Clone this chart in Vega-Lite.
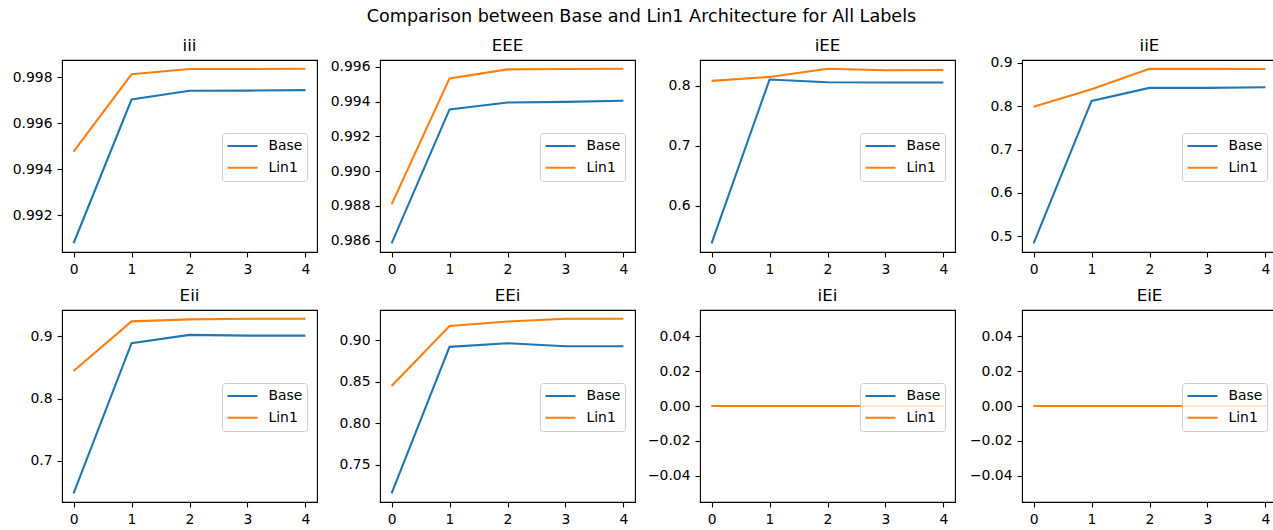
{
  "$schema": "https://vega.github.io/schema/vega-lite/v6.json",
  "padding": {"left": 11, "top": 8, "right": 0, "bottom": 0},
  "background": "white",
  "title": {"text": "Comparison between Base and Lin1 Architecture for All Labels", "anchor": "middle", "fontSize": 17.6, "fontWeight": "normal", "font": "DejaVu Sans", "color": "#000", "offset": 11.3, "dx": -3},
  "data": {"values": [
    {"label": "iii", "model": "Base", "epoch": 0, "value": 0.99078},
    {"label": "iii", "model": "Base", "epoch": 1, "value": 0.99703},
    {"label": "iii", "model": "Base", "epoch": 2, "value": 0.99741},
    {"label": "iii", "model": "Base", "epoch": 3, "value": 0.99742},
    {"label": "iii", "model": "Base", "epoch": 4, "value": 0.99744},
    {"label": "iii", "model": "Lin1", "epoch": 0, "value": 0.99477},
    {"label": "iii", "model": "Lin1", "epoch": 1, "value": 0.99813},
    {"label": "iii", "model": "Lin1", "epoch": 2, "value": 0.99836},
    {"label": "iii", "model": "Lin1", "epoch": 3, "value": 0.99836},
    {"label": "iii", "model": "Lin1", "epoch": 4, "value": 0.99837},
    {"label": "EEE", "model": "Base", "epoch": 0, "value": 0.98585},
    {"label": "EEE", "model": "Base", "epoch": 1, "value": 0.99355},
    {"label": "EEE", "model": "Base", "epoch": 2, "value": 0.99395},
    {"label": "EEE", "model": "Base", "epoch": 3, "value": 0.99398},
    {"label": "EEE", "model": "Base", "epoch": 4, "value": 0.99405},
    {"label": "EEE", "model": "Lin1", "epoch": 0, "value": 0.98809},
    {"label": "EEE", "model": "Lin1", "epoch": 1, "value": 0.99533},
    {"label": "EEE", "model": "Lin1", "epoch": 2, "value": 0.99585},
    {"label": "EEE", "model": "Lin1", "epoch": 3, "value": 0.99587},
    {"label": "EEE", "model": "Lin1", "epoch": 4, "value": 0.99589},
    {"label": "iEE", "model": "Base", "epoch": 0, "value": 0.537},
    {"label": "iEE", "model": "Base", "epoch": 1, "value": 0.810},
    {"label": "iEE", "model": "Base", "epoch": 2, "value": 0.8055},
    {"label": "iEE", "model": "Base", "epoch": 3, "value": 0.805},
    {"label": "iEE", "model": "Base", "epoch": 4, "value": 0.805},
    {"label": "iEE", "model": "Lin1", "epoch": 0, "value": 0.8078},
    {"label": "iEE", "model": "Lin1", "epoch": 1, "value": 0.8144},
    {"label": "iEE", "model": "Lin1", "epoch": 2, "value": 0.828},
    {"label": "iEE", "model": "Lin1", "epoch": 3, "value": 0.8254},
    {"label": "iEE", "model": "Lin1", "epoch": 4, "value": 0.826},
    {"label": "iiE", "model": "Base", "epoch": 0, "value": 0.484},
    {"label": "iiE", "model": "Base", "epoch": 1, "value": 0.812},
    {"label": "iiE", "model": "Base", "epoch": 2, "value": 0.842},
    {"label": "iiE", "model": "Base", "epoch": 3, "value": 0.842},
    {"label": "iiE", "model": "Base", "epoch": 4, "value": 0.8436},
    {"label": "iiE", "model": "Lin1", "epoch": 0, "value": 0.7985},
    {"label": "iiE", "model": "Lin1", "epoch": 1, "value": 0.839},
    {"label": "iiE", "model": "Lin1", "epoch": 2, "value": 0.8862},
    {"label": "iiE", "model": "Lin1", "epoch": 3, "value": 0.8858},
    {"label": "iiE", "model": "Lin1", "epoch": 4, "value": 0.8855},
    {"label": "Eii", "model": "Base", "epoch": 0, "value": 0.648},
    {"label": "Eii", "model": "Base", "epoch": 1, "value": 0.8889},
    {"label": "Eii", "model": "Base", "epoch": 2, "value": 0.9022},
    {"label": "Eii", "model": "Base", "epoch": 3, "value": 0.901},
    {"label": "Eii", "model": "Base", "epoch": 4, "value": 0.901},
    {"label": "Eii", "model": "Lin1", "epoch": 0, "value": 0.8443},
    {"label": "Eii", "model": "Lin1", "epoch": 1, "value": 0.9239},
    {"label": "Eii", "model": "Lin1", "epoch": 2, "value": 0.9271},
    {"label": "Eii", "model": "Lin1", "epoch": 3, "value": 0.9282},
    {"label": "Eii", "model": "Lin1", "epoch": 4, "value": 0.9282},
    {"label": "EEi", "model": "Base", "epoch": 0, "value": 0.7157},
    {"label": "EEi", "model": "Base", "epoch": 1, "value": 0.8921},
    {"label": "EEi", "model": "Base", "epoch": 2, "value": 0.8964},
    {"label": "EEi", "model": "Base", "epoch": 3, "value": 0.8928},
    {"label": "EEi", "model": "Base", "epoch": 4, "value": 0.8928},
    {"label": "EEi", "model": "Lin1", "epoch": 0, "value": 0.8449},
    {"label": "EEi", "model": "Lin1", "epoch": 1, "value": 0.9172},
    {"label": "EEi", "model": "Lin1", "epoch": 2, "value": 0.9227},
    {"label": "EEi", "model": "Lin1", "epoch": 3, "value": 0.926},
    {"label": "EEi", "model": "Lin1", "epoch": 4, "value": 0.926},
    {"label": "iEi", "model": "Base", "epoch": 0, "value": 0},
    {"label": "iEi", "model": "Base", "epoch": 1, "value": 0},
    {"label": "iEi", "model": "Base", "epoch": 2, "value": 0},
    {"label": "iEi", "model": "Base", "epoch": 3, "value": 0},
    {"label": "iEi", "model": "Base", "epoch": 4, "value": 0},
    {"label": "iEi", "model": "Lin1", "epoch": 0, "value": 0},
    {"label": "iEi", "model": "Lin1", "epoch": 1, "value": 0},
    {"label": "iEi", "model": "Lin1", "epoch": 2, "value": 0},
    {"label": "iEi", "model": "Lin1", "epoch": 3, "value": 0},
    {"label": "iEi", "model": "Lin1", "epoch": 4, "value": 0},
    {"label": "EiE", "model": "Base", "epoch": 0, "value": 0},
    {"label": "EiE", "model": "Base", "epoch": 1, "value": 0},
    {"label": "EiE", "model": "Base", "epoch": 2, "value": 0},
    {"label": "EiE", "model": "Base", "epoch": 3, "value": 0},
    {"label": "EiE", "model": "Base", "epoch": 4, "value": 0},
    {"label": "EiE", "model": "Lin1", "epoch": 0, "value": 0},
    {"label": "EiE", "model": "Lin1", "epoch": 1, "value": 0},
    {"label": "EiE", "model": "Lin1", "epoch": 2, "value": 0},
    {"label": "EiE", "model": "Lin1", "epoch": 3, "value": 0},
    {"label": "EiE", "model": "Lin1", "epoch": 4, "value": 0}
  ]},
  "columns": 4,
  "align": "each",
  "spacing": {"row": 10, "column": 10},
  "resolve": {"scale": {"color": "independent", "x": "independent", "y": "independent"}, "legend": {"color": "independent"}},
  "concat": [
    {
      "title": "iii", "width": 255, "height": 192,
      "transform": [{"filter": "datum.label === 'iii'"}],
      "mark": {"type": "line", "strokeWidth": 2.1},
      "encoding": {
        "x": {"field": "epoch", "type": "quantitative", "scale": {"domain": [-0.2, 4.2], "nice": false, "zero": false}, "axis": {"values": [0, 1, 2, 3, 4], "format": "d", "title": null}},
        "y": {"field": "value", "type": "quantitative", "scale": {"domain": [0.9904, 0.99875], "nice": false, "zero": false}, "axis": {"values": [0.992, 0.994, 0.996, 0.998], "format": ".3f", "title": null, "minExtent": 50, "maxExtent": 50}},
        "color": {"field": "model", "type": "nominal", "scale": {"domain": ["Base", "Lin1"], "range": ["#1f77b4", "#ff7f0e"]}, "legend": {"title": null, "orient": "none", "legendX": 160, "legendY": 73, "zindex": 2, "labelOffset": 9.5, "padding": 4, "rowPadding": 3.7, "clipHeight": 18, "symbolType": "stroke", "symbolSize": 900, "symbolStrokeWidth": 2.1}}
      }
    },
    {
      "title": "EEE", "width": 255, "height": 192,
      "transform": [{"filter": "datum.label === 'EEE'"}],
      "mark": {"type": "line", "strokeWidth": 2.1},
      "encoding": {
        "x": {"field": "epoch", "type": "quantitative", "scale": {"domain": [-0.2, 4.2], "nice": false, "zero": false}, "axis": {"values": [0, 1, 2, 3, 4], "format": "d", "title": null}},
        "y": {"field": "value", "type": "quantitative", "scale": {"domain": [0.98535, 0.99639], "nice": false, "zero": false}, "axis": {"values": [0.986, 0.988, 0.990, 0.992, 0.994, 0.996], "format": ".3f", "title": null, "minExtent": 51.3, "maxExtent": 51.3}},
        "color": {"field": "model", "type": "nominal", "scale": {"domain": ["Base", "Lin1"], "range": ["#1f77b4", "#ff7f0e"]}, "legend": {"title": null, "orient": "none", "legendX": 160, "legendY": 73, "zindex": 2, "labelOffset": 9.5, "padding": 4, "rowPadding": 3.7, "clipHeight": 18, "symbolType": "stroke", "symbolSize": 900, "symbolStrokeWidth": 2.1}}
      }
    },
    {
      "title": "iEE", "width": 255, "height": 192,
      "transform": [{"filter": "datum.label === 'iEE'"}],
      "mark": {"type": "line", "strokeWidth": 2.1},
      "encoding": {
        "x": {"field": "epoch", "type": "quantitative", "scale": {"domain": [-0.2, 4.2], "nice": false, "zero": false}, "axis": {"values": [0, 1, 2, 3, 4], "format": "d", "title": null}},
        "y": {"field": "value", "type": "quantitative", "scale": {"domain": [0.5225, 0.8426], "nice": false, "zero": false}, "axis": {"values": [0.6, 0.7, 0.8], "format": ".1f", "title": null, "minExtent": 53.4, "maxExtent": 53.4}},
        "color": {"field": "model", "type": "nominal", "scale": {"domain": ["Base", "Lin1"], "range": ["#1f77b4", "#ff7f0e"]}, "legend": {"title": null, "orient": "none", "legendX": 160, "legendY": 73, "zindex": 2, "labelOffset": 9.5, "padding": 4, "rowPadding": 3.7, "clipHeight": 18, "symbolType": "stroke", "symbolSize": 900, "symbolStrokeWidth": 2.1}}
      }
    },
    {
      "title": {"text": "iiE", "dy": 4.3}, "width": 255, "height": 192,
      "transform": [{"filter": "datum.label === 'iiE'"}],
      "mark": {"type": "line", "strokeWidth": 2.1},
      "encoding": {
        "x": {"field": "epoch", "type": "quantitative", "scale": {"domain": [-0.2, 4.2], "nice": false, "zero": false}, "axis": {"values": [0, 1, 2, 3, 4], "format": "d", "title": null}},
        "y": {"field": "value", "type": "quantitative", "scale": {"domain": [0.4639, 0.9063], "nice": false, "zero": false}, "axis": {"values": [0.5, 0.6, 0.7, 0.8, 0.9], "format": ".1f", "title": null, "minExtent": 55, "maxExtent": 55}},
        "color": {"field": "model", "type": "nominal", "scale": {"domain": ["Base", "Lin1"], "range": ["#1f77b4", "#ff7f0e"]}, "legend": {"title": null, "orient": "none", "legendX": 160, "legendY": 73, "zindex": 2, "labelOffset": 9.5, "padding": 4, "rowPadding": 3.7, "clipHeight": 18, "symbolType": "stroke", "symbolSize": 900, "symbolStrokeWidth": 2.1}}
      }
    },
    {
      "title": "Eii", "width": 255, "height": 192,
      "transform": [{"filter": "datum.label === 'Eii'"}],
      "mark": {"type": "line", "strokeWidth": 2.1},
      "encoding": {
        "x": {"field": "epoch", "type": "quantitative", "scale": {"domain": [-0.2, 4.2], "nice": false, "zero": false}, "axis": {"values": [0, 1, 2, 3, 4], "format": "d", "title": null}},
        "y": {"field": "value", "type": "quantitative", "scale": {"domain": [0.634, 0.9422], "nice": false, "zero": false}, "axis": {"values": [0.7, 0.8, 0.9], "format": ".1f", "title": null, "minExtent": 50, "maxExtent": 50}},
        "color": {"field": "model", "type": "nominal", "scale": {"domain": ["Base", "Lin1"], "range": ["#1f77b4", "#ff7f0e"]}, "legend": {"title": null, "orient": "none", "legendX": 160, "legendY": 73, "zindex": 2, "labelOffset": 9.5, "padding": 4, "rowPadding": 3.7, "clipHeight": 18, "symbolType": "stroke", "symbolSize": 900, "symbolStrokeWidth": 2.1}}
      }
    },
    {
      "title": "EEi", "width": 255, "height": 192,
      "transform": [{"filter": "datum.label === 'EEi'"}],
      "mark": {"type": "line", "strokeWidth": 2.1},
      "encoding": {
        "x": {"field": "epoch", "type": "quantitative", "scale": {"domain": [-0.2, 4.2], "nice": false, "zero": false}, "axis": {"values": [0, 1, 2, 3, 4], "format": "d", "title": null}},
        "y": {"field": "value", "type": "quantitative", "scale": {"domain": [0.7052, 0.9365], "nice": false, "zero": false}, "axis": {"values": [0.75, 0.80, 0.85, 0.90], "format": ".2f", "title": null, "minExtent": 51.3, "maxExtent": 51.3}},
        "color": {"field": "model", "type": "nominal", "scale": {"domain": ["Base", "Lin1"], "range": ["#1f77b4", "#ff7f0e"]}, "legend": {"title": null, "orient": "none", "legendX": 160, "legendY": 73, "zindex": 2, "labelOffset": 9.5, "padding": 4, "rowPadding": 3.7, "clipHeight": 18, "symbolType": "stroke", "symbolSize": 900, "symbolStrokeWidth": 2.1}}
      }
    },
    {
      "title": "iEi", "width": 255, "height": 192,
      "transform": [{"filter": "datum.label === 'iEi'"}],
      "mark": {"type": "line", "strokeWidth": 2.1},
      "encoding": {
        "x": {"field": "epoch", "type": "quantitative", "scale": {"domain": [-0.2, 4.2], "nice": false, "zero": false}, "axis": {"values": [0, 1, 2, 3, 4], "format": "d", "title": null}},
        "y": {"field": "value", "type": "quantitative", "scale": {"domain": [-0.055, 0.055], "nice": false, "zero": false}, "axis": {"values": [-0.04, -0.02, 0, 0.02, 0.04], "format": ".2f", "title": null, "minExtent": 53.4, "maxExtent": 53.4}},
        "color": {"field": "model", "type": "nominal", "scale": {"domain": ["Base", "Lin1"], "range": ["#1f77b4", "#ff7f0e"]}, "legend": {"title": null, "orient": "none", "legendX": 160, "legendY": 73, "zindex": 2, "labelOffset": 9.5, "padding": 4, "rowPadding": 3.7, "clipHeight": 18, "symbolType": "stroke", "symbolSize": 900, "symbolStrokeWidth": 2.1}}
      }
    },
    {
      "title": "EiE", "width": 255, "height": 192,
      "transform": [{"filter": "datum.label === 'EiE'"}],
      "mark": {"type": "line", "strokeWidth": 2.1},
      "encoding": {
        "x": {"field": "epoch", "type": "quantitative", "scale": {"domain": [-0.2, 4.2], "nice": false, "zero": false}, "axis": {"values": [0, 1, 2, 3, 4], "format": "d", "title": null}},
        "y": {"field": "value", "type": "quantitative", "scale": {"domain": [-0.055, 0.055], "nice": false, "zero": false}, "axis": {"values": [-0.04, -0.02, 0, 0.02, 0.04], "format": ".2f", "title": null, "minExtent": 55, "maxExtent": 55}},
        "color": {"field": "model", "type": "nominal", "scale": {"domain": ["Base", "Lin1"], "range": ["#1f77b4", "#ff7f0e"]}, "legend": {"title": null, "orient": "none", "legendX": 160, "legendY": 73, "zindex": 2, "labelOffset": 9.5, "padding": 4, "rowPadding": 3.7, "clipHeight": 18, "symbolType": "stroke", "symbolSize": 900, "symbolStrokeWidth": 2.1}}
      }
    }
  ],
  "config": {
    "font": "DejaVu Sans",
    "view": {"stroke": "#000", "strokeWidth": 1.1},
    "axis": {"grid": false, "domain": false, "tickColor": "#000", "tickSize": 5, "tickWidth": 1.1, "labelColor": "#000", "labelFontSize": 13.9, "labelPadding": 5, "labelFont": "DejaVu Sans", "labelOverlap": false, "labelFlush": false},
    "axisX": {"minExtent": 22, "maxExtent": 22},
    "title": {"fontSize": 16.7, "fontWeight": "normal", "font": "DejaVu Sans", "color": "#000", "offset": 5.5},
    "legend": {"fillColor": "rgba(255,255,255,0.8)", "strokeColor": "#cccccc", "cornerRadius": 3, "labelFontSize": 13.9, "labelColor": "#000", "labelFont": "DejaVu Sans"}
  }
}
